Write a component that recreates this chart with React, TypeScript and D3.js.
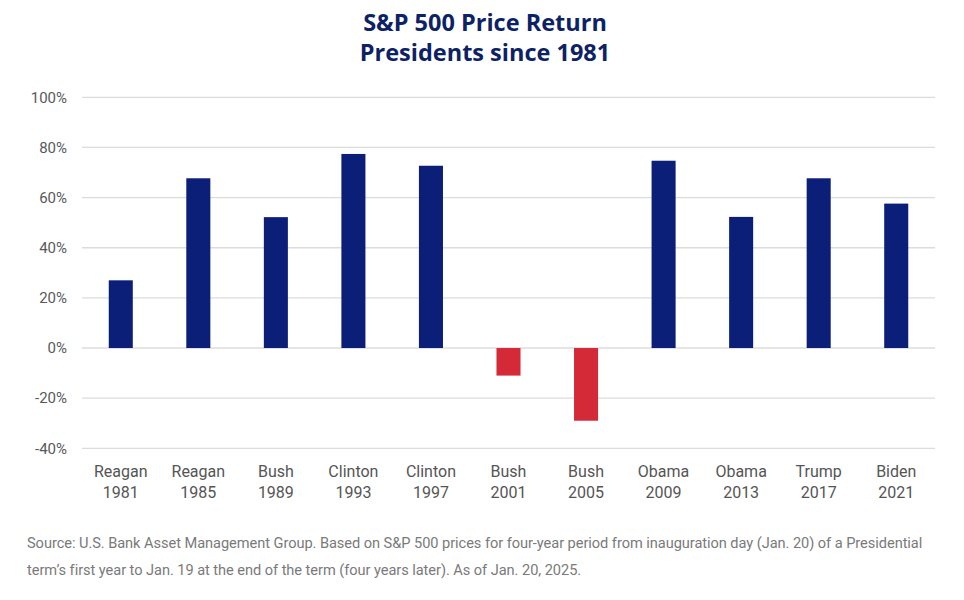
import React from "react";
import * as d3 from "d3";

const presidents = ["Reagan", "Reagan", "Bush", "Clinton", "Clinton", "Bush", "Bush", "Obama", "Obama", "Trump", "Biden"];
const years = ["1981", "1985", "1989", "1993", "1997", "2001", "2005", "2009", "2013", "2017", "2021"];
const returns = [27, 67.7, 52.2, 77.4, 72.7, -11, -29, 74.7, 52.3, 67.7, 57.6];
const yTicks = [-40, -20, 0, 20, 40, 60, 80, 100];
const titleLines = ["S&P 500 Price Return", "Presidents since 1981"];
const footLines = [
  "Source: U.S. Bank Asset Management Group. Based on S&P 500 prices for four-year period from inauguration day (Jan. 20) of a Presidential",
  "term\u2019s first year to Jan. 19 at the end of the term (four years later). As of Jan. 20, 2025.",
];

const W = 964;
const H = 600;
const left = 82;
const right = 935;
const top = 97.3;
const bottom = 448.3;

export default function App() {
  const keys = years.map((y, i) => presidents[i] + " " + y);
  const x = d3.scaleBand<string>().domain(keys).range([left, right]).paddingInner(0.69).paddingOuter(0.345);
  const y = d3.scaleLinear().domain([-40, 100]).range([bottom, top]);
  const navy = "#0b1f78";
  const red = "#d42a38";
  return (
    <svg width={W} height={H} style={{ position: "absolute", left: 0, top: 0, background: "#fff" }}>
      {titleLines.map((t, i) => (
        <text key={t} x={485} y={31 + i * 30} textAnchor="middle" fontFamily="'Open Sans', sans-serif" fontWeight={700} fontSize={23.5} fill="#0d2266">
          {t}
        </text>
      ))}
      {yTicks.map((t) => (
        <g key={t}>
          <line x1={left} x2={right} y1={y(t)} y2={y(t)} stroke="#dcdcdc" strokeWidth={1.3} />
          <text x={67} y={y(t)} dy="0.35em" textAnchor="end" fontFamily="Roboto, sans-serif" fontSize={15} fill="#595959">
            {t}%
          </text>
        </g>
      ))}
      {keys.map((k, i) => {
        const v = returns[i];
        return (
          <rect
            key={k}
            x={x(k)}
            width={x.bandwidth()}
            y={y(Math.max(0, v))}
            height={Math.abs(y(v) - y(0))}
            fill={v < 0 ? red : navy}
          />
        );
      })}
      {keys.map((k, i) => (
        <text key={k} textAnchor="middle" fontFamily="Roboto, sans-serif" fontSize={16} fill="#555">
          <tspan x={(x(k) as number) + x.bandwidth() / 2} y={477}>{presidents[i]}</tspan>
          <tspan x={(x(k) as number) + x.bandwidth() / 2} y={498}>{years[i]}</tspan>
        </text>
      ))}
      {footLines.map((t, i) => (
        <text key={i} x={27} y={548 + i * 27} fontFamily="Roboto, sans-serif" fontSize={14.6} fill="#7a7a7a" letterSpacing={-0.05}>
          {t}
        </text>
      ))}
    </svg>
  );
}
